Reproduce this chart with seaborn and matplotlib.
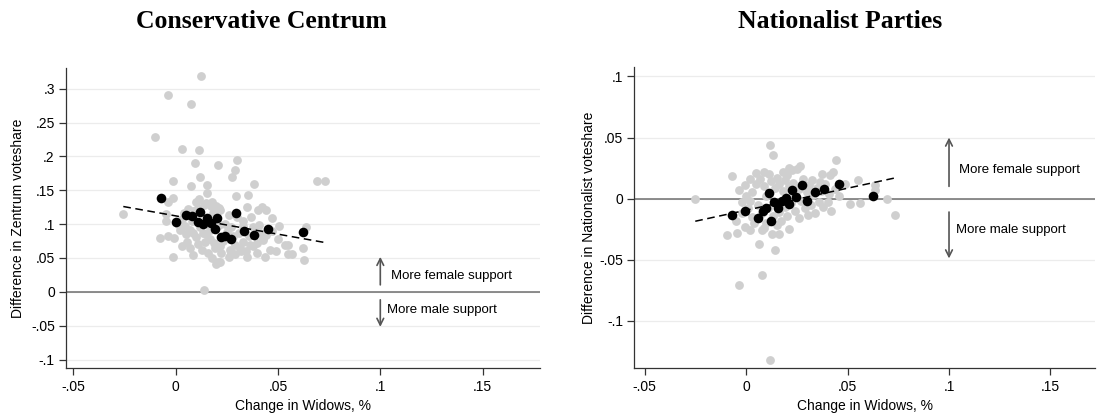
import matplotlib
matplotlib.use("Agg")
import matplotlib.pyplot as plt
import seaborn as sns
import pandas as pd
import numpy as np

# ---- Conservative Centrum: district-level scatter (x = change in widows, y = gender gap) ----
zen_x = [0.0123, -0.0036, 0.0074, -0.0098, 0.0034, 0.0114, 0.0095, 0.0209, 0.0302, 0.0289,
         0.0278, 0.0118, -0.0013, 0.0074, 0.0154, 0.0381, 0.0693, 0.0729, 0.0155, 0.0297,
         0.0355, -0.0013, -0.0038, 0.0114, 0.0180, 0.0212, 0.0351, 0.0404, 0.0423, 0.0444,
         0.0469, 0.0507, 0.0636, -0.0046, -0.0255,
         -0.0075, -0.0039, -0.0008, 0.0057, -0.0013, 0.0085, 0.0139, 0.0199, 0.0216, 0.0400,
         0.0436, 0.0351, 0.0551, 0.0551, 0.0567, 0.0624, 0.0629, 0.0426, 0.0441,
         0.0101, 0.0150, 0.0175, 0.0200, 0.0216, 0.0110, 0.0085, 0.0183, 0.0140, 0.0060,
         0.0030, 0.0010, 0.0045, 0.0069, 0.0085, 0.0101, 0.0134, 0.0142, 0.0167, 0.0191,
         0.0216, 0.0224, 0.0265, 0.0289, 0.0314, 0.0330, 0.0363, 0.0346, 0.0412, 0.0428,
         0.0208, 0.0273, 0.0534,
         0.0120, 0.0150, 0.0170, 0.0110, 0.0130, 0.0160, 0.0190, 0.0230, 0.0250, 0.0270,
         0.0280, 0.0310, 0.0330, 0.0360, 0.0380, 0.0240, 0.0210, 0.0190, 0.0050, 0.0020,
         0.0080, 0.0070, 0.0030, 0.0290, 0.0320, 0.0260, 0.0180, 0.0380, 0.0400, 0.0460,
         0.0490, 0.0470, 0.0500, 0.0300, 0.0260, 0.0330, 0.0410, 0.0370, 0.0160, 0.0040,
         -0.0046]
zen_y = [0.319, 0.291, 0.278, 0.228, 0.211, 0.210, 0.190, 0.187, 0.194, 0.180,
         0.169, 0.169, 0.163, 0.156, 0.158, 0.159, 0.164, 0.164, 0.146, 0.141,
         0.143, 0.139, 0.133, 0.137, 0.133, 0.124, 0.125, 0.121, 0.125, 0.121,
         0.109, 0.0965, 0.095, 0.115, 0.115,
         0.079, 0.083, 0.080, 0.073, 0.051, 0.054, 0.003, 0.041, 0.044, 0.057,
         0.051, 0.052, 0.069, 0.056, 0.056, 0.064, 0.047, 0.079, 0.084,
         0.133, 0.131, 0.126, 0.126, 0.121, 0.124, 0.119, 0.116, 0.128, 0.122,
         0.108, 0.100, 0.097, 0.0916, 0.0867, 0.0817, 0.0867, 0.0743, 0.0916, 0.0645,
         0.067, 0.0571, 0.062, 0.0694, 0.0645, 0.0743, 0.0694, 0.0596, 0.0867, 0.0768,
         0.0448, 0.0571, 0.0694,
         0.095, 0.085, 0.078, 0.070, 0.062, 0.058, 0.072, 0.075, 0.088, 0.095,
         0.082, 0.087, 0.097, 0.083, 0.095, 0.100, 0.098, 0.105, 0.085, 0.092,
         0.104, 0.064, 0.068, 0.056, 0.061, 0.052, 0.050, 0.067, 0.072, 0.062,
         0.060, 0.090, 0.078, 0.110, 0.113, 0.104, 0.098, 0.110, 0.100, 0.116,
         0.104]

# binned means
zen_bin_x = [-0.0070, 0.0000, 0.0052, 0.0082, 0.0118, 0.0109, 0.0134, 0.0153, 0.0172, 0.0191,
             0.0204, 0.0221, 0.0240, 0.0270, 0.0294, 0.0333, 0.0382, 0.0452, 0.0621]
zen_bin_y = [0.1384, 0.1038, 0.1133, 0.1123, 0.1177, 0.1038, 0.1000, 0.1097, 0.1015, 0.0926,
             0.1089, 0.0808, 0.0827, 0.0778, 0.1171, 0.0905, 0.0838, 0.0926, 0.0886]

# linear fit: intercept, slope
zen_fit = [0.1122, -0.54]

# ---- Nationalist Parties ----
nat_x = [0.0116, 0.0132, 0.0441, 0.0430, -0.0072, 0.0021, -0.0036, -0.0008, 0.0111, 0.0201,
         0.0225, 0.0266, 0.0250, 0.0324, 0.0373, 0.0364, 0.0413, 0.0487, 0.0549, 0.0511,
         0.0560, 0.0634, 0.0634, 0.0696, 0.0732, -0.0023, -0.0044, -0.0093, -0.0007, 0.0062,
         0.0144, 0.0127, 0.0163, 0.0212, 0.0078, 0.0304, 0.0078, -0.0033, 0.0119, -0.0251,
         0.0405,
         0.003, 0.005, 0.007, 0.009, 0.010, 0.012, 0.014, 0.015, 0.016, 0.018,
         0.019, 0.021, 0.023, 0.024, 0.026, 0.028, 0.030, 0.031, 0.033, 0.035,
         0.037, 0.039, 0.041, 0.044, 0.046,
         0.001, 0.003, 0.004, 0.006, 0.008, 0.010, 0.011, 0.013, 0.014, 0.016,
         0.017, 0.019, 0.020, 0.022, 0.024, 0.026, 0.027, 0.029, 0.032, 0.034,
         0.036, 0.038, 0.042, -0.002, -0.005, 0.000, 0.002, 0.005, 0.009, 0.018,
         0.021, 0.009, 0.015, 0.002]
nat_y = [0.0437, 0.0355, 0.032, 0.0219, 0.0186, 0.0164, 0.0068, 0.0109, 0.0205, 0.0191,
         0.0232, 0.0265, 0.024, 0.015, 0.0205, 0.0137, 0.0191, 0.0123, 0.0156, -0.0041,
         -0.0036, 0.0109, 0.0068, 0.0, -0.0137, -0.0027, -0.0281, -0.030, -0.0232, -0.0369,
         -0.0418, -0.0287, -0.0292, -0.0246, -0.0254, -0.0137, -0.0628, -0.0711, -0.1325, 0.0,
         -0.0027,
         0.005, 0.012, 0.016, 0.010, 0.002, 0.014, 0.009, 0.017, 0.012, 0.006,
         0.015, 0.010, 0.013, 0.004, 0.008, 0.016, 0.005, 0.011, 0.003, 0.009,
         0.006, 0.012, 0.004, 0.008, 0.002,
         -0.008, -0.015, -0.020, -0.005, -0.012, -0.020, -0.008, -0.014, -0.003, -0.011,
         -0.018, -0.007, -0.014, -0.004, -0.010, -0.016, -0.002, -0.008, -0.005, -0.012,
         -0.003, -0.007, -0.010, -0.012, -0.018, 0.002, -0.002, 0.021, 0.022, 0.022,
         0.025, -0.024, -0.022, -0.026]

nat_bin_x = [-0.0069, -0.0005, 0.0057, 0.0083, 0.0100, 0.0114, 0.0123, 0.0139, 0.0157, 0.0176,
             0.0196, 0.0209, 0.0225, 0.0245, 0.0275, 0.0299, 0.0337, 0.0386, 0.0458, 0.0626]
nat_bin_y = [-0.0137, -0.0104, -0.0156, -0.0101, -0.0074, 0.0046, -0.0183, -0.0027, -0.0077, -0.0022,
             0.0005, -0.0046, 0.0068, 0.0014, 0.0109, -0.0022, 0.0055, 0.0077, 0.0123, 0.0019]

nat_fit = [-0.0095, 0.36]

panels = [
    dict(title="Conservative Centrum", ylabel="Difference in Zentrum voteshare",
         x=zen_x, y=zen_y, bx=zen_bin_x, by=zen_bin_y, fit=zen_fit,
         yticks=[-0.1, -0.05, 0, 0.05, 0.1, 0.15, 0.2, 0.25, 0.3], ylim=(-0.113, 0.330),
         up=(0.0103, 0.0517), down=(-0.0118, -0.0517), tf=(0.105, 0.024), tm=(0.1035, -0.0266),
         lpad=4),
    dict(title="Nationalist Parties", ylabel="Difference in Nationalist voteshare",
         x=nat_x, y=nat_y, bx=nat_bin_x, by=nat_bin_y, fit=nat_fit,
         yticks=[-0.1, -0.05, 0, 0.05, 0.1], ylim=(-0.139, 0.108),
         up=(0.010, 0.050), down=(-0.0110, -0.0490), tf=(0.105, 0.0237), tm=(0.1035, -0.0254),
         lpad=2),
]

sns.set_theme(style="white")
plt.rcParams["font.family"] = ["Liberation Sans", "DejaVu Sans"]

fig = plt.figure(figsize=(11.03, 4.13), dpi=100)
axes_rects = [[0.0598, 0.108, 0.4298, 0.7266], [0.5748, 0.108, 0.4180, 0.7306]]
xlims = [(-0.0535, 0.178), (-0.0553, 0.172)]
title_x = [0.2366, 0.7616]


def stata_fmt(v):
    if abs(v) < 1e-12:
        return "0"
    s = f"{v:g}"
    return s.replace("0.", ".")


for p, rect, xl, tx in zip(panels, axes_rects, xlims, title_x):
    ax = fig.add_axes(rect)
    for yt in p["yticks"]:
        ax.axhline(yt, color="#ececec", lw=0.9, zorder=0)
    ax.axhline(0, color="#6e6e6e", lw=1.1, zorder=1)

    pts = pd.DataFrame({"x": p["x"], "y": p["y"]})
    sns.scatterplot(data=pts, x="x", y="y", ax=ax, color="#cfcfcf", s=40,
                    linewidth=0, zorder=2)
    bins = pd.DataFrame({"x": p["bx"], "y": p["by"]})
    sns.scatterplot(data=bins, x="x", y="y", ax=ax, color="black", s=48,
                    linewidth=0, zorder=4)

    b0, b1 = p["fit"]
    gx = np.array([min(p["x"]), max(p["x"])])
    line = pd.DataFrame({"x": gx, "y": b0 + b1 * gx})
    sns.lineplot(data=line, x="x", y="y", ax=ax, color="black", lw=1.1,
                 linestyle=(0, (5, 3)), zorder=3)

    ax.annotate("", xy=(0.1, p["up"][1]), xytext=(0.1, p["up"][0]),
                arrowprops=dict(arrowstyle="->", color="#555555", lw=1.2,
                                shrinkA=0, shrinkB=0))
    ax.annotate("", xy=(0.1, p["down"][1]), xytext=(0.1, p["down"][0]),
                arrowprops=dict(arrowstyle="->", color="#555555", lw=1.2,
                                shrinkA=0, shrinkB=0))
    ax.text(p["tf"][0], p["tf"][1], "More female support", fontsize=9.5,
            va="center", ha="left", color="black")
    ax.text(p["tm"][0], p["tm"][1], "More male support", fontsize=9.5,
            va="center", ha="left", color="black")

    ax.set_xlim(*xl)
    ax.set_ylim(*p["ylim"])
    xt = [-0.05, 0, 0.05, 0.1, 0.15]
    ax.set_xticks(xt)
    ax.set_xticklabels([stata_fmt(v) for v in xt])
    ax.set_yticks(p["yticks"])
    ax.set_yticklabels([stata_fmt(v) for v in p["yticks"]])
    ax.tick_params(axis="both", which="major", direction="out", length=5,
                   width=0.9, color="#333333", labelsize=10, labelcolor="black",
                   bottom=True, left=True, pad=3)
    ax.grid(False)
    for side in ["top", "right"]:
        ax.spines[side].set_visible(False)
    for side in ["left", "bottom"]:
        ax.spines[side].set_color("#333333")
        ax.spines[side].set_linewidth(0.9)
    ax.set_xlabel("Change in Widows, %", fontsize=10, color="black", labelpad=4)
    ax.set_ylabel(p["ylabel"], fontsize=10, color="black", labelpad=p["lpad"])

    fig.text(tx, 0.947, p["title"], ha="center", va="center", fontsize=18.5,
             fontweight="bold", color="black",
             family=["Liberation Serif", "DejaVu Serif"])

fig.savefig("out.png", dpi=100)
